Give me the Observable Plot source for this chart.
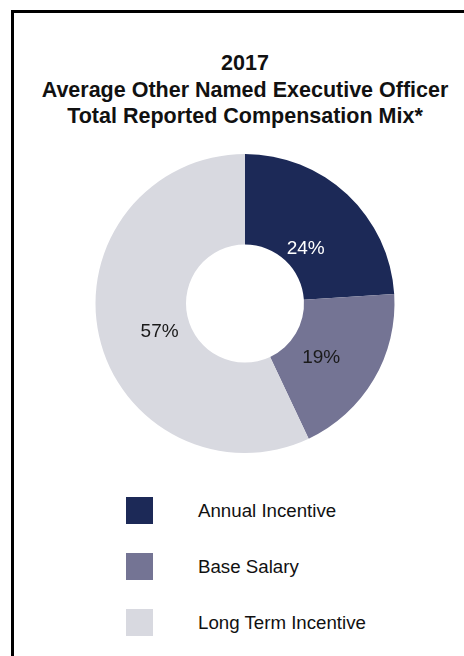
<!DOCTYPE html>
<html>
<head>
<meta charset="utf-8">
<script src="https://cdn.jsdelivr.net/npm/d3@7"></script>
<script src="https://cdn.jsdelivr.net/npm/@observablehq/plot@0.6"></script>
<style>
  html { margin: 0; padding: 0; background: #fff; overflow: hidden; }
  body { margin: 0; padding: 0; background: #fff; font-family: "Liberation Sans", Arial, sans-serif; }
  #hbar { position: fixed; left: 11px; right: 0; top: 10px; height: 2.5px; background: #000; }
  #vbar { position: fixed; left: 11px; top: 10px; bottom: 0; width: 2.5px; background: #000; }
  #title { position: absolute; left: 26px; width: 438px; top: 50px; text-align: center; font-weight: bold; font-size: 21.5px; line-height: 26.5px; color: #111; white-space: nowrap; }
  #chart { position: absolute; left: 0; top: 140px; width: 464px; height: 330px; }
  #legend { position: absolute; left: 126px; top: 497px; }
  .item { display: flex; align-items: center; height: 27px; margin-bottom: 29px; }
  .sw { width: 27px; height: 27px; margin-right: 45px; }
  .lab { font-size: 18.7px; color: #111; white-space: nowrap; }
</style>
</head>
<body>
<div id="hbar"></div>
<div id="vbar"></div>
<div id="title"></div>
<div id="chart"></div>
<div id="legend"></div>
<script>
const categories = ["Annual Incentive", "Base Salary", "Long Term Incentive"];
const values = [24, 19, 57];
const colors = ["#1c2957", "#747494", "#d8d9e0"];
const labelColors = ["#ffffff", "#1a1a1a", "#1a1a1a"];
const titleLines = ["2017", "Average Other Named Executive Officer", "Total Reported Compensation Mix*"];

const innerFrac = 59 / 149.5;
const labelFrac = 88 / 149.5;

const pie = d3.pie().sort(null).value(d => d.value)(categories.map((c, i) => ({category: c, value: values[i]})));
const data = pie.map((p, i) => {
  const mid = (p.startAngle + p.endAngle) / 2;
  return {
    category: p.data.category,
    value: p.data.value,
    startAngle: p.startAngle,
    endAngle: p.endAngle,
    lx: labelFrac * Math.sin(mid),
    ly: labelFrac * Math.cos(mid),
    label: p.data.value + "%",
    labelColor: labelColors[i]
  };
});

function donut(index, scales, values, dimensions) {
  const cx = scales.x(0), cy = scales.y(0);
  const r = Math.abs(scales.x(1) - scales.x(0));
  const arc = d3.arc().innerRadius(r * innerFrac).outerRadius(r);
  const g = d3.create("svg:g").attr("transform", `translate(${cx},${cy})`);
  g.selectAll("path").data(data).join("path")
    .attr("d", d => arc(d))
    .attr("fill", d => scales.color(d.category));
  return g.node();
}

const plot = Plot.plot({
  width: 464,
  height: 330,
  margin: 0,
  x: {domain: [-1, 1], range: [95.5, 394.5], axis: null},
  y: {domain: [-1, 1], range: [313, 14], axis: null},
  color: {domain: categories, range: colors},
  style: {background: "transparent", fontFamily: "Liberation Sans, Arial, sans-serif"},
  marks: [
    donut,
    Plot.text(data, {x: "lx", y: "ly", text: "label", fill: "labelColor", fontSize: 19, dy: 8})
  ]
});
document.getElementById("chart").appendChild(plot);

const legend = document.getElementById("legend");
categories.forEach((c, i) => {
  const item = document.createElement("div");
  item.className = "item";
  const sw = document.createElement("div");
  sw.className = "sw";
  sw.style.background = colors[i];
  const lab = document.createElement("div");
  lab.className = "lab";
  lab.textContent = c;
  item.appendChild(sw);
  item.appendChild(lab);
  legend.appendChild(item);
});
document.getElementById("title").innerHTML = titleLines.join("<br>");
</script>
</body>
</html>
